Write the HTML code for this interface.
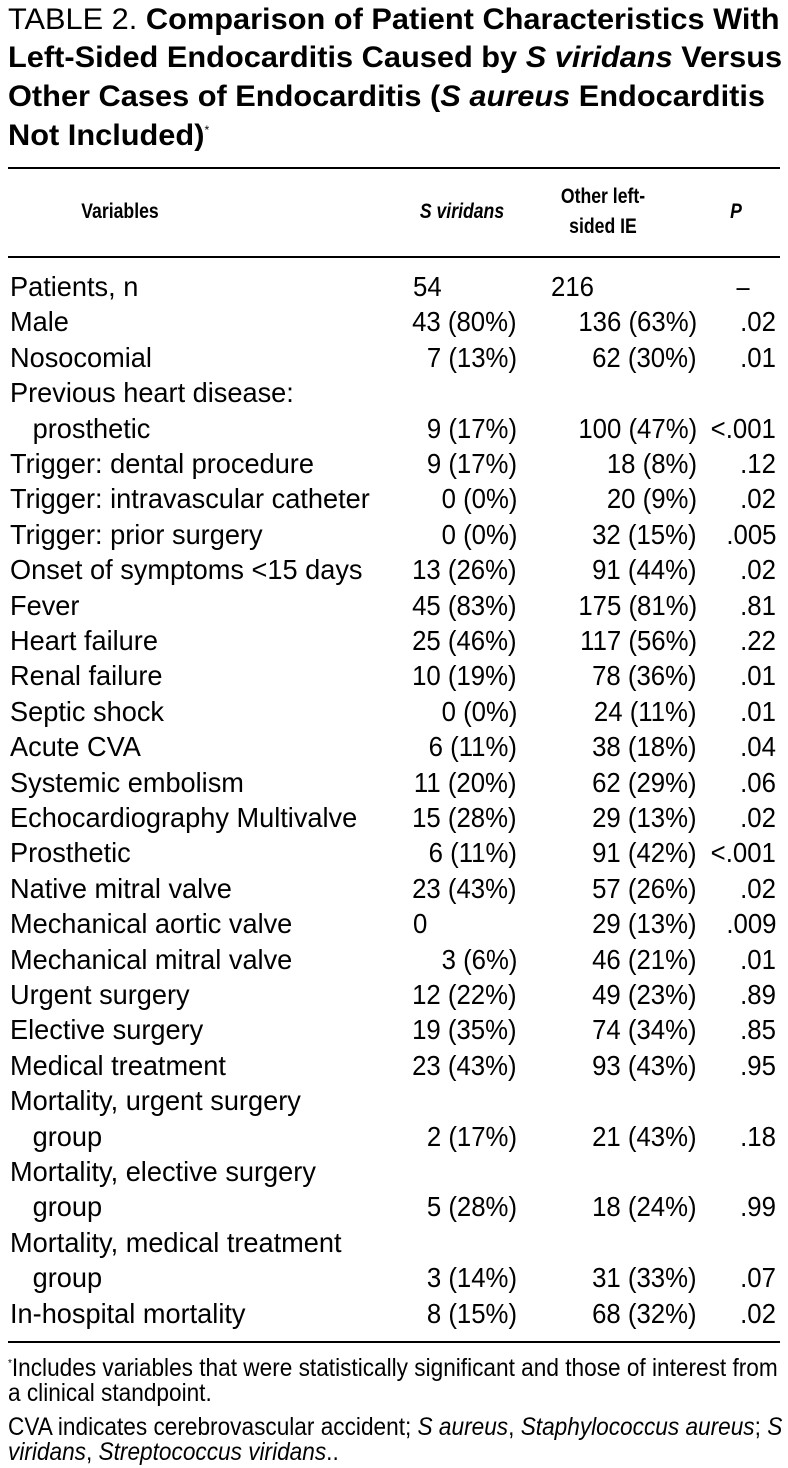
<!DOCTYPE html>
<html><head><meta charset="utf-8">
<style>
body{margin:0;width:788px;height:1468px;background:#fff;position:relative;overflow:hidden;font-family:"Liberation Sans",Arial,sans-serif;color:#000}
.t{position:absolute;white-space:nowrap;font-size:28px;line-height:30px;height:30px}
.l{transform:scaleX(0.97);transform-origin:left center}
.v{transform:scaleX(0.92);transform-origin:left center}
.r{transform:scaleX(0.92);transform-origin:right center;text-align:right}
.c{transform:scaleX(0.84);transform-origin:center center;text-align:center}
.h{font-size:21px;font-weight:bold}
.rule{position:absolute;left:8px;width:772px;background:#000}
.title{position:absolute;left:8px;font-size:30px;line-height:32px;font-weight:bold;white-space:nowrap;transform:scaleX(1.025);transform-origin:left center}
.fn{position:absolute;left:8px;font-size:25px;line-height:28px;white-space:nowrap;transform:scaleX(0.905);transform-origin:left center}
sup{line-height:0}
</style></head><body>
<div class="title" style="top:4px"><span style="font-weight:normal">TABLE 2.</span> Comparison of Patient Characteristics With</div>
<div class="title" style="top:42px">Left-Sided Endocarditis Caused by <i>S viridans</i> Versus</div>
<div class="title" style="top:81px">Other Cases of Endocarditis (<i>S aureus</i> Endocarditis</div>
<div class="title" style="top:120px">Not Included)<sup style="font-size:12px;font-weight:normal">*</sup></div>

<div class="rule" style="top:167px;height:2px"></div>
<div class="t h c" style="left:40px;width:160px;top:197px">Variables</div>
<div class="t h c" style="left:382px;width:160px;top:197px"><i>S viridans</i></div>
<div class="t h c" style="left:523px;width:160px;top:182px">Other left-</div>
<div class="t h c" style="left:523px;width:160px;top:212px">sided IE</div>
<div class="t h c" style="left:706px;width:60px;top:197px"><i>P</i></div>
<div class="rule" style="top:256px;height:2px"></div>

<div id="rows"></div>
<script>
var rows=[
["Patients, n","54","216","–",1],
["Male","43 (80%)","136 (63%)",".02"],
["Nosocomial","7 (13%)","62 (30%)",".01"],
["Previous heart disease:","","",""],
["&nbsp;&nbsp;&nbsp;prosthetic","9 (17%)","100 (47%)","<.001"],
["Trigger: dental procedure","9 (17%)","18 (8%)",".12"],
["Trigger: intravascular catheter","0 (0%)","20 (9%)",".02"],
["Trigger: prior surgery","0 (0%)","32 (15%)",".005"],
["Onset of symptoms &lt;15 days","13 (26%)","91 (44%)",".02"],
["Fever","45 (83%)","175 (81%)",".81"],
["Heart failure","25 (46%)","117 (56%)",".22"],
["Renal failure","10 (19%)","78 (36%)",".01"],
["Septic shock","0 (0%)","24 (11%)",".01"],
["Acute CVA","6 (11%)","38 (18%)",".04"],
["Systemic embolism","11 (20%)","62 (29%)",".06"],
["Echocardiography Multivalve","15 (28%)","29 (13%)",".02"],
["Prosthetic","6 (11%)","91 (42%)","<.001"],
["Native mitral valve","23 (43%)","57 (26%)",".02"],
["Mechanical aortic valve","0","29 (13%)",".009",2],
["Mechanical mitral valve","3 (6%)","46 (21%)",".01"],
["Urgent surgery","12 (22%)","49 (23%)",".89"],
["Elective surgery","19 (35%)","74 (34%)",".85"],
["Medical treatment","23 (43%)","93 (43%)",".95"],
["Mortality, urgent surgery","","",""],
["&nbsp;&nbsp;&nbsp;group","2 (17%)","21 (43%)",".18"],
["Mortality, elective surgery","","",""],
["&nbsp;&nbsp;&nbsp;group","5 (28%)","18 (24%)",".99"],
["Mortality, medical treatment","","",""],
["&nbsp;&nbsp;&nbsp;group","3 (14%)","31 (33%)",".07"],
["In-hospital mortality","8 (15%)","68 (32%)",".02"]
];
var h="";
rows.forEach(function(r,i){
 var top=(287+i*35.4-15).toFixed(1);
 h+='<div class="t l" style="left:10px;top:'+top+'px">'+r[0]+'</div>';
 if(r[4]){
  h+='<div class="t v" style="left:413px;top:'+top+'px">'+r[1]+'</div>';
 } else h+='<div class="t r" style="right:271px;top:'+top+'px">'+r[1]+'</div>';
 if(r[4]==1){
  h+='<div class="t v" style="left:551px;top:'+top+'px">'+r[2]+'</div>';
  h+='<div class="t c" style="left:723px;width:40px;top:'+top+'px">'+r[3]+'</div>';
 } else {
  h+='<div class="t r" style="right:91px;top:'+top+'px">'+r[2]+'</div>';
  h+='<div class="t r" style="right:12px;top:'+top+'px">'+r[3].replace("<","&lt;")+'</div>';
 }
});
document.getElementById("rows").innerHTML=h;
</script>

<div class="rule" style="top:1341px;height:2px"></div>
<div class="fn" style="top:1354px"><sup style="font-size:11px">*</sup>Includes variables that were statistically significant and those of interest from</div>
<div class="fn" style="top:1379px">a clinical standpoint.</div>
<div class="fn" style="top:1413px">CVA indicates cerebrovascular accident; <i>S aureus</i>, <i>Staphylococcus aureus</i>; <i>S</i></div>
<div class="fn" style="top:1438px"><i>viridans</i>, <i>Streptococcus viridans</i>..</div>
</body></html>
